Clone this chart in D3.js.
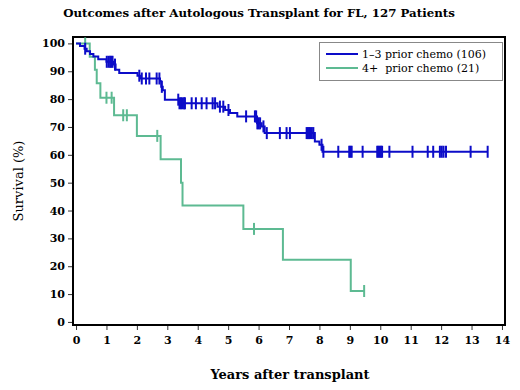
<!DOCTYPE html>
<html>
<head>
<meta charset="utf-8">
<script src="https://cdn.jsdelivr.net/npm/d3@7"></script>
<style>
  body { margin: 0; background: #fff; }
  #chart { width: 520px; height: 390px; }
  text { font-family: "DejaVu Serif", "Liberation Serif", serif; }
</style>
</head>
<body>
<div id="chart"></div>
<script>
'use strict';

// Kaplan-Meier steps: [years, survival %]
const blueSteps = [
  [0, 100], [0.13, 99.1], [0.28, 98.1], [0.35, 97.2], [0.46, 96.2], [0.57, 95.3],
  [0.73, 94.3], [1.0, 93.4], [1.22, 92.4], [1.3, 90.5], [1.42, 89.4], [2.02, 88.4],
  [2.1, 87.4], [2.76, 86.4], [2.8, 84.4], [2.85, 83.2], [2.92, 79.8], [3.4, 78.5],
  [4.65, 77.3], [4.9, 76.1], [5.06, 75.0], [5.3, 73.8], [5.95, 71.3], [6.1, 70.2],
  [6.2, 67.8], [7.85, 64.8], [8.0, 63.6], [8.1, 61.1], [13.53, 61.1],
];
const greenSteps = [
  [0, 100], [0.45, 95.2], [0.62, 90.5], [0.68, 85.7], [0.8, 80.5], [1.25, 74.2],
  [2.0, 66.8], [2.78, 58.4], [3.45, 50.0], [3.5, 41.8], [5.5, 33.4], [6.8, 22.3],
  [9.03, 11.1], [9.47, 11.1],
];

// censored observations (years)
const blueCensored = [
  0.30, 1.01, 1.07, 1.12, 1.16, 1.2, 1.28, 2.08, 2.16, 2.30, 2.41, 2.65, 2.74, 2.82,
  3.36, 3.40, 3.45, 3.50, 3.55, 3.58, 3.80, 3.94, 4.13, 4.29, 4.49, 4.57, 4.73, 4.84,
  5.01, 5.59, 5.88, 5.92, 5.96, 6.0, 6.05, 6.16, 6.27, 6.70, 6.92, 7.03, 7.58, 7.62,
  7.66, 7.70, 7.75, 7.80, 8.07, 8.13, 8.62, 8.98, 9.02, 9.06, 9.42, 9.90, 9.94, 9.98,
  10.02, 10.06, 10.30, 11.06, 11.56, 11.74, 11.96, 12.02, 12.08, 12.16, 12.97, 13.53,
];
const greenCensored = [0.3, 1.0, 1.17, 1.55, 1.67, 2.67, 5.85, 9.47];

const xTicks = d3.range(0, 15);
const yTicks = d3.range(0, 101, 10);
const legendLabels = ['1\u20133 prior chemo (106)', '4+  prior chemo (21)'];

const COLORS = { blue: '#0c0cc8', green: '#5dba92' };

const W = 520, H = 390;
const svg = d3.select('#chart').append('svg').attr('width', W).attr('height', H);

const x = d3.scaleLinear().domain([-0.1, 14.1]).range([73, 505]);
const y = d3.scaleLinear().domain([-1.1, 102.3]).range([325, 37]);

// title
svg.append('text')
  .attr('x', 259).attr('y', 17)
  .attr('text-anchor', 'middle')
  .attr('font-size', '11.8px').attr('font-weight', 'bold')
  .text('Outcomes after Autologous Transplant for FL, 127 Patients');

// axes
const xAxis = svg.append('g')
  .attr('transform', `translate(0,${y.range()[0]})`)
  .call(d3.axisBottom(x).tickValues(xTicks).tickSize(5).tickPadding(6).tickSizeOuter(0));
xAxis.select('.domain').remove();
xAxis.selectAll('text').attr('font-size', '11px').attr('font-weight', 'bold')
  .attr('font-family', '"DejaVu Serif", serif');
xAxis.selectAll('line').attr('stroke', '#333');

const yAxis = svg.append('g')
  .attr('transform', `translate(${x.range()[0]},0)`)
  .call(d3.axisLeft(y).tickValues(yTicks).tickSize(5).tickPadding(3).tickSizeOuter(0));
yAxis.select('.domain').remove();
yAxis.selectAll('text').attr('font-size', '11px').attr('font-weight', 'bold')
  .attr('font-family', '"DejaVu Serif", serif');
yAxis.selectAll('line').attr('stroke', '#333');

// frame
svg.append('rect')
  .attr('x', x.range()[0]).attr('y', y.range()[1])
  .attr('width', x.range()[1] - x.range()[0])
  .attr('height', y.range()[0] - y.range()[1])
  .attr('fill', 'none').attr('stroke', '#000').attr('stroke-width', 2);

// axis titles
svg.append('text')
  .attr('x', 290).attr('y', 379)
  .attr('text-anchor', 'middle')
  .attr('font-size', '13px').attr('font-weight', 'bold')
  .text('Years after transplant');

svg.append('text')
  .attr('transform', `translate(23,${(y.range()[0] + y.range()[1]) / 2}) rotate(-90)`)
  .attr('text-anchor', 'middle')
  .attr('font-size', '13px')
  .text('Survival (%)');

// survival curves
const line = d3.line()
  .x(d => x(d[0]))
  .y(d => y(d[1]))
  .curve(d3.curveStepAfter);

function survivalAt(steps, t) {
  let s = steps[0][1];
  for (const [tt, v] of steps) { if (tt <= t) s = v; else break; }
  return s;
}

function drawCurve(steps, censored, color) {
  svg.append('path')
    .datum(steps)
    .attr('d', line)
    .attr('fill', 'none')
    .attr('stroke', color)
    .attr('stroke-width', 2);
  svg.append('g').selectAll('line')
    .data(censored)
    .join('line')
    .attr('x1', d => x(d)).attr('x2', d => x(d))
    .attr('y1', d => y(survivalAt(steps, d)) - 6)
    .attr('y2', d => y(survivalAt(steps, d)) + 6)
    .attr('stroke', color)
    .attr('stroke-width', 2);
}

drawCurve(greenSteps, greenCensored, COLORS.green);
drawCurve(blueSteps, blueCensored, COLORS.blue);

// legend
const legend = svg.append('g');
legend.append('rect')
  .attr('x', 319.5).attr('y', 42.5).attr('width', 183).attr('height', 38)
  .attr('fill', '#fff').attr('stroke', '#888').attr('stroke-width', 1);
[COLORS.blue, COLORS.green].forEach((c, i) => {
  const ly = 54 + i * 14;
  legend.append('line')
    .attr('x1', 326).attr('x2', 358).attr('y1', ly).attr('y2', ly)
    .attr('stroke', c).attr('stroke-width', 2);
  legend.append('text')
    .attr('x', 362).attr('y', ly + 4)
    .attr('font-size', '11px')
    .style('white-space', 'pre')
    .text(legendLabels[i]);
});
</script>
</body>
</html>
